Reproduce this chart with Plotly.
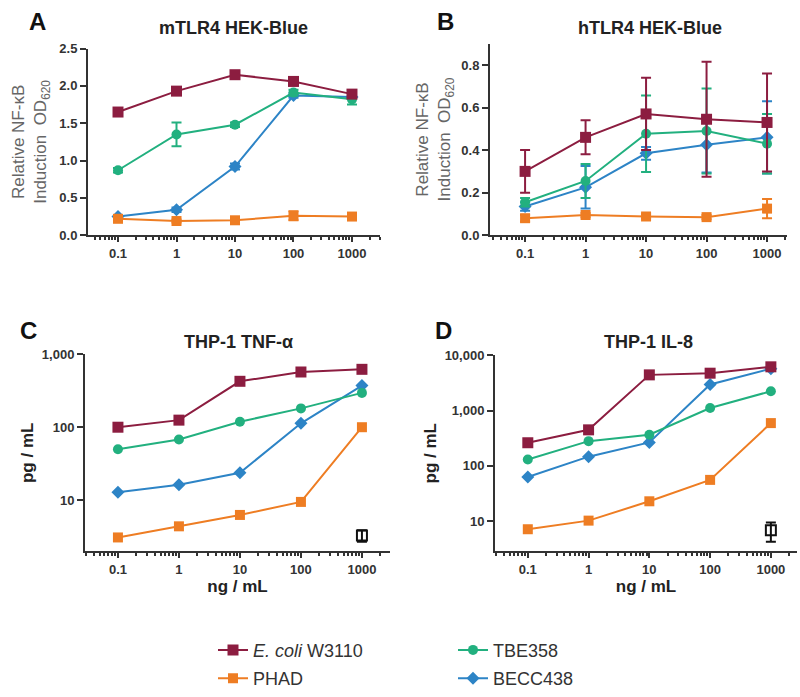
import plotly.graph_objects as go

# ---------------- data ----------------
conc = [0.1, 1, 10, 100, 1000]
series_names = ["<i>E. coli</i> W3110", "PHAD", "TBE358", "BECC438"]

# Panel A: mTLR4 HEK-Blue (relative NF-kB OD620)
ecoli_A = [1.65, 1.93, 2.15, 2.06, 1.89]
ecoli_A_err = [0.03, 0.04, 0.04, 0.05, 0.04]
phad_A = [0.22, 0.19, 0.20, 0.26, 0.25]
phad_A_err = [0.03, 0.02, 0.02, 0.06, 0.03]
tbe_A = [0.87, 1.35, 1.48, 1.91, 1.82]
tbe_A_err = [0.03, 0.16, 0.03, 0.04, 0.07]
becc_A = [0.25, 0.34, 0.92, 1.87, 1.85]
becc_A_err = [0.02, 0.03, 0.04, 0.03, 0.03]

# Panel B: hTLR4 HEK-Blue
ecoli_B = [0.30, 0.46, 0.57, 0.545, 0.53]
ecoli_B_err = [0.10, 0.08, 0.17, 0.27, 0.23]
phad_B = [0.08, 0.095, 0.088, 0.085, 0.125]
phad_B_err = [0.015, 0.01, 0.01, 0.01, 0.045]
tbe_B = [0.155, 0.255, 0.477, 0.49, 0.43]
tbe_B_err = [0.02, 0.08, 0.18, 0.20, 0.14]
becc_B = [0.135, 0.225, 0.385, 0.425, 0.46]
becc_B_err = [0.02, 0.10, 0.03, 0.13, 0.17]

# Panel C: THP-1 TNF-alpha (pg/mL)
ecoli_C = [100, 125, 425, 570, 620]
phad_C = [3.1, 4.4, 6.3, 9.5, 100]
tbe_C = [50, 68, 119, 181, 295]
becc_C = [12.9, 16.3, 23.8, 113, 372]
ctrl_C_x = [1000]
ctrl_C = [3.3]
ctrl_C_err = [0.6]

# Panel D: THP-1 IL-8 (pg/mL)
ecoli_D = [262, 448, 4400, 4720, 6150]
phad_D = [7.2, 10.3, 23, 56, 593]
tbe_D = [131, 280, 366, 1110, 2230]
becc_D = [63, 147, 266, 2950, 5700]
ctrl_D_x = [1000]
ctrl_D = [6.9]
ctrl_D_err = [2.6]

panel_titles = ["mTLR4 HEK-Blue", "hTLR4 HEK-Blue", "THP-1 TNF-α", "THP-1 IL-8"]
panel_letters = ["A", "B", "C", "D"]
x_ticks = [0.1, 1, 10, 100, 1000]
x_ticktext = ["0.1", "1", "10", "100", "1000"]
yA_ticks = [0, 0.5, 1.0, 1.5, 2.0, 2.5]
yB_ticks = [0, 0.2, 0.4, 0.6, 0.8]
yC_ticks = [10, 100, 1000]
yC_ticktext = ["10", "100", "1,000"]
yD_ticks = [10, 100, 1000, 10000]
yD_ticktext = ["10", "100", "1,000", "10,000"]

# ---------------- style ----------------
FONT = "Arial, 'Liberation Sans', sans-serif"
colors = ["#8C1D40", "#EE7D23", "#22B07F", "#2D84C6"]
symbols = ["square", "square", "circle", "diamond"]
msizes = [11, 10, 10, 10]
legend_ids = ["legend", "legend", "legend2", "legend2"]
legend_ranks = [1, 2, 1, 2]
AX = "#333333"

fig = go.Figure()

panels = [
    ("x", "y", [ecoli_A, phad_A, tbe_A, becc_A], [ecoli_A_err, phad_A_err, tbe_A_err, becc_A_err]),
    ("x2", "y2", [ecoli_B, phad_B, tbe_B, becc_B], [ecoli_B_err, phad_B_err, tbe_B_err, becc_B_err]),
    ("x3", "y3", [ecoli_C, phad_C, tbe_C, becc_C], None),
    ("x4", "y4", [ecoli_D, phad_D, tbe_D, becc_D], None),
]

draw_order = [3, 2, 1, 0]  # BECC bottom, E. coli on top
for pi, (xa, ya, vals, errs) in enumerate(panels):
    for si in draw_order:
        err = None
        if errs is not None:
            err = dict(type="data", array=errs[si], color=colors[si], thickness=2, width=5)
        fig.add_trace(go.Scatter(
            x=conc, y=vals[si], xaxis=xa, yaxis=ya,
            mode="lines+markers", name=series_names[si],
            line=dict(color=colors[si], width=2),
            marker=dict(symbol=symbols[si], size=msizes[si], color=colors[si],
                        line=dict(width=0)),
            error_y=err, cliponaxis=False,
            showlegend=(pi == 0), legend=legend_ids[si], legendrank=legend_ranks[si],
            legendgroup=series_names[si],
        ))

# control open squares (C, D)
for xa, ya, xv, yv, ev in [("x3", "y3", ctrl_C_x, ctrl_C, ctrl_C_err),
                           ("x4", "y4", ctrl_D_x, ctrl_D, ctrl_D_err)]:
    fig.add_trace(go.Scatter(
        x=xv, y=yv, xaxis=xa, yaxis=ya, mode="markers", name="control",
        marker=dict(symbol="square-open", size=10, color="#111111", line=dict(width=2)),
        error_y=dict(type="data", array=ev, color="#111111", thickness=2, width=5),
        showlegend=False, cliponaxis=False,
    ))

W, H = 800, 697
def dx(a, b):
    return [a / W, b / W]
def dy(top, bottom):
    return [1 - bottom / H, 1 - top / H]

tickfont = dict(family=FONT, size=13, color=AX, weight="bold")
common_x = dict(type="log", showgrid=False, zeroline=False, showline=True,
                linecolor=AX, linewidth=2, ticks="outside", ticklen=5, tickwidth=2,
                tickcolor=AX, tickvals=x_ticks, ticktext=x_ticktext,
                tickfont=tickfont,
                minor=dict(ticks="outside", ticklen=3, tickwidth=1.5, tickcolor=AX,
                           tickvals=[v * m for v in [0.01, 0.1, 1, 10, 100, 1000] for m in range(2, 10)]))
common_y = dict(showgrid=False, zeroline=False, showline=True, linecolor=AX,
                linewidth=2, ticks="outside", ticklen=6, tickwidth=2, tickcolor=AX,
                tickfont=tickfont)

gray_title = dict(family=FONT, size=17, color="#666666")
bold_title = dict(family=FONT, size=17, color="#222222")
legend_font = dict(family=FONT, size=18, color="#333333")

fig.update_layout(
    width=W, height=H,
    margin=dict(l=0, r=0, t=0, b=0),
    paper_bgcolor="white", plot_bgcolor="white",
    font=dict(family=FONT, color=AX),
    xaxis=dict(common_x, domain=dx(88, 380), range=[-1.513, 3.479], anchor="y"),
    yaxis=dict(common_y, domain=dy(43, 236), range=[0, 2.5], tickvals=yA_ticks,
               tickformat=".1f", anchor="x",
               title=dict(text="Relative NF-κB<br>Induction  OD<sub>620</sub>",
                          font=gray_title, standoff=8)),
    xaxis2=dict(common_x, domain=dx(490, 787), range=[-1.58, 3.33], anchor="y2"),
    yaxis2=dict(common_y, domain=dy(38, 236), range=[0, 0.9], tickvals=yB_ticks,
                tickformat=".1f", anchor="x2",
                title=dict(text="Relative NF-κB<br>Induction  OD<sub>620</sub>",
                           font=gray_title, standoff=6)),
    xaxis3=dict(common_x, domain=dx(85, 390), range=[-1.54, 3.46], anchor="y3",
                title=dict(text="<b>ng / mL</b>", font=bold_title, standoff=4)),
    yaxis3=dict(common_y, type="log", domain=dy(359, 563), range=[0.3, 3.0],
                tickvals=yC_ticks, ticktext=yC_ticktext, anchor="x3",
                title=dict(text="<b>pg / mL</b>", font=bold_title, standoff=4)),
    xaxis4=dict(common_x, domain=dx(495, 797), range=[-1.54, 3.43], anchor="y4",
                title=dict(text="<b>ng / mL</b>", font=bold_title, standoff=4)),
    yaxis4=dict(common_y, type="log", domain=dy(360, 563), range=[0.457, 4.0],
                tickvals=yD_ticks, ticktext=yD_ticktext, anchor="x4",
                title=dict(text="<b>pg / mL</b>", font=bold_title, standoff=4)),
    legend=dict(x=213 / W, y=1 - 646 / H, xanchor="left", yanchor="top",
                orientation="v", font=legend_font,
                bgcolor="rgba(0,0,0,0)", tracegroupgap=2, traceorder="grouped"),
    legend2=dict(x=453 / W, y=1 - 646 / H, xanchor="left", yanchor="top",
                 orientation="v", font=legend_font,
                 bgcolor="rgba(0,0,0,0)", tracegroupgap=2, traceorder="grouped"),
)

# panel titles and letters
title_pos = [(233, 22), (650, 22), (238, 346), (648, 346)]
letter_pos = [(37, 15), (445, 15), (29, 335), (443, 335)]
for t, (px, py) in zip(panel_titles, title_pos):
    fig.add_annotation(text=f"<b>{t}</b>", x=px / W, y=1 - py / H, xref="paper", yref="paper",
                       showarrow=False, xanchor="center", yanchor="middle",
                       font=dict(family=FONT, size=18, color="#222222"))
for t, (px, py) in zip(panel_letters, letter_pos):
    fig.add_annotation(text=f"<b>{t}</b>", x=px / W, y=1 - py / H, xref="paper", yref="paper",
                       showarrow=False, xanchor="center", yanchor="middle",
                       font=dict(family=FONT, size=24, color="#111111"))

# remove the default page margin so the 800x697 figure fills the window exactly
fig.write_html("out.html",
               config={"displayModeBar": False},
               post_script="document.body.style.margin='0px';document.body.style.overflow='hidden';")
